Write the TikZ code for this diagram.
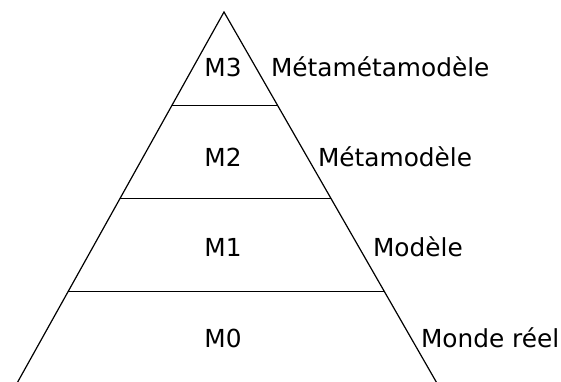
\documentclass[tikz,border=0pt]{standalone}
\usepackage{fontspec}
\setmainfont{DejaVu Sans}
\usetikzlibrary{calc}

\begin{document}
\begin{tikzpicture}[x=0.5pt, y=-0.5pt,
        layer/.style={font=\fontsize{12.4}{14}\selectfont},
        layername/.style={font=\fontsize{12.4}{14}\selectfont, anchor=west}]
        \useasboundingbox (0, 0) rectangle (561, 381);
        \clip (0, 0) rectangle (561, 381);

        % Define corners of the pyramid
        \coordinate (Top) at (224, 12);       % Apex
        \coordinate (BL) at (16, 385);        % Bottom-left
        \coordinate (BR) at (438, 385);       % Bottom-right

        % Points on the sides for the levels
        \coordinate (L1) at ($(Top)!0.25!(BL)$);
        \coordinate (R1) at ($(Top)!0.25!(BR)$);
        \coordinate (L2) at ($(Top)!0.5!(BL)$);
        \coordinate (R2) at ($(Top)!0.5!(BR)$);
        \coordinate (L3) at ($(Top)!0.75!(BL)$);
        \coordinate (R3) at ($(Top)!0.75!(BR)$);

        % Draw the sides
        \draw[line width=0.6pt] (BL) -- (Top) -- (BR);

        % Draw the level separators
        \draw[line width=0.6pt] (L1) -- (R1);
        \draw[line width=0.6pt] (L2) -- (R2);
        \draw[line width=0.6pt] (L3) -- (R3);

        % Level labels
        \node[layer] (m3) at (223, 67) {M3};
        \node[layer] (m2) at (223, 157) {M2};
        \node[layer] (m1) at (223, 247) {M1};
        \node[layer] (m0) at (223, 338) {M0};

        % Level names
        \node[layername] (metameta) at (264, 67) {Métamétamodèle};
        \node[layername] (meta) at (311, 157) {Métamodèle};
        \node[layername] (modele) at (366, 247) {Modèle};
        \node[layername] (monde) at (414, 338) {Monde réel};

    \end{tikzpicture}
\end{document}
